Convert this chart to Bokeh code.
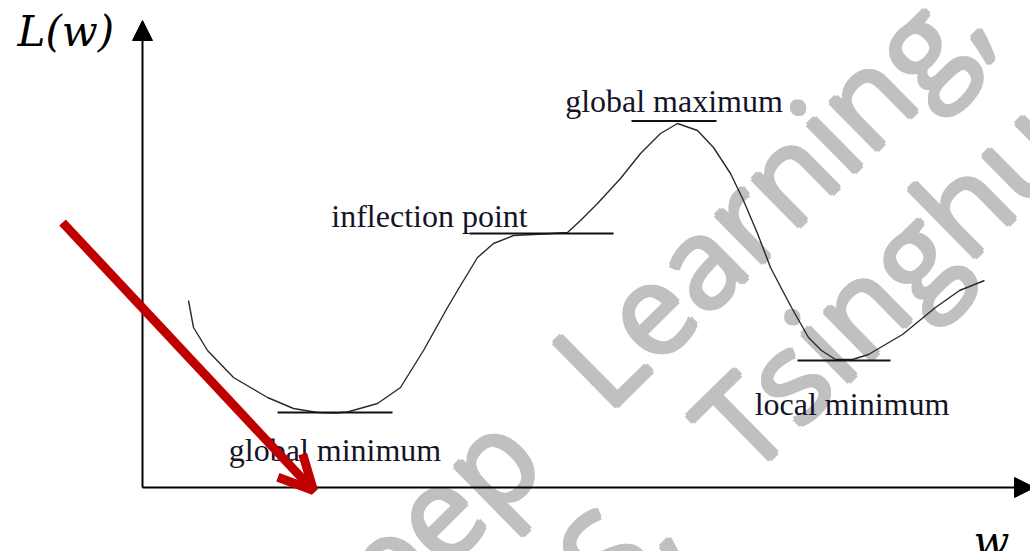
from bokeh.plotting import figure
from bokeh.models import Range1d, Arrow, NormalHead, OpenHead, ColumnDataSource
from bokeh.core.properties import value
from bokeh.embed import file_html
from bokeh.resources import INLINE

# Loss curve L(w) sampled along w
w_vals = [0.46, 0.51, 0.65, 0.91, 1.25, 1.51, 1.75, 1.93, 2.05, 2.35, 2.58, 2.81,
          3.05, 3.18, 3.35, 3.51, 3.71, 4.01, 4.25, 4.38, 4.55, 4.78, 4.98, 5.18,
          5.35, 5.55, 5.71, 5.88, 6.01, 6.15, 6.28, 6.40, 6.49, 6.66, 6.79, 6.93,
          7.10, 7.26, 7.60, 7.93, 8.17, 8.42]
loss_vals = [1.87, 1.60, 1.37, 1.10, 0.90, 0.79, 0.75, 0.745, 0.755, 0.84, 1.00, 1.37,
             1.80, 2.02, 2.30, 2.44, 2.52, 2.535, 2.55, 2.67, 2.84, 3.09, 3.34, 3.54,
             3.64, 3.57, 3.40, 3.14, 2.87, 2.54, 2.20, 1.97, 1.80, 1.50, 1.37, 1.28,
             1.28, 1.33, 1.53, 1.80, 1.97, 2.07]

# Critical points of the curve
point_names = ["global minimum", "inflection point", "global maximum", "local minimum"]
point_w = [1.925, 3.99, 5.315, 7.015]
point_loss = [0.75, 2.54, 3.665, 1.27]

# Layout of the tangent marks and their captions (pixels)
tangent_half = [57.5, 72, 42.5, 46.5]
caption_dx = [0, -112, 0, 8]
caption_dy = [-37, 18, 20, -43]

PX = 100.0  # pixels per data unit on both axes

p = figure(width=1030, height=551,
           x_range=Range1d(-1.42, 8.88), y_range=Range1d(-0.64, 4.87),
           output_backend="svg", toolbar_location=None,
           x_axis_type=None, y_axis_type=None, min_border=0,
           outline_line_color=None, background_fill_color="white",
           border_fill_color="white")

# Watermark underlay, word by word along two slanted baselines; each word is
# stamped a few times with tiny offsets to give the face a medium weight
wm_font = value("Open Sans")
wm_angle = 0.777
wm_words = ["Deep", "Learning,", "IIIS,", "Tsinghua"]
wm_x = [1.51, 4.31, 3.61, 5.72]
wm_y = [-1.63, 1.07, -1.65, 0.42]
for dx, dy in [(0, 0), (-1.5, -1.5), (1.5, -1.5), (-1.5, 1.5), (1.5, 1.5)]:
    p.text(x=wm_x, y=wm_y, text=wm_words, angle=wm_angle,
           x_offset=dx, y_offset=dy,
           text_font=wm_font, text_font_size="126px",
           text_color="#c0c0c0", text_align="left", text_baseline="alphabetic")

# Loss curve
p.line(w_vals, loss_vals, line_color="#2a2a2a", line_width=1.4)

# Horizontal tangent marks at the critical points
tan_src = ColumnDataSource(dict(
    x0=[w - h / PX for w, h in zip(point_w, tangent_half)],
    x1=[w + h / PX for w, h in zip(point_w, tangent_half)],
    y=point_loss))
p.segment(x0="x0", y0="y", x1="x1", y1="y", source=tan_src,
          line_color="#111111", line_width=2)

# Captions
cap_src = ColumnDataSource(dict(
    x=[w + dx / PX for w, dx in zip(point_w, caption_dx)],
    y=[l + dy / PX for l, dy in zip(point_loss, caption_dy)],
    text=point_names))
p.text(x="x", y="y", text="text", source=cap_src,
       text_font=value("Liberation Serif"), text_font_size="32px",
       text_color="#141428", text_align="center", text_baseline="alphabetic")

# Axes with arrow heads
p.add_layout(Arrow(end=NormalHead(size=20, fill_color="black", line_color="black"),
                   x_start=0, y_start=0, x_end=0, y_end=4.67,
                   line_color="black", line_width=2))
p.add_layout(Arrow(end=NormalHead(size=20, fill_color="black", line_color="black"),
                   x_start=0, y_start=0, x_end=8.92, y_end=0,
                   line_color="black", line_width=2))

# Axis names
p.text(x=[-1.25], y=[4.56], text=["L(w)"], text_font=value("DejaVu Serif"),
       text_font_style="italic", text_font_size="42px", text_color="black",
       text_align="left", text_baseline="alphabetic")
p.text(x=[8.31], y=[-0.54], text=["w"], text_font=value("DejaVu Serif"),
       text_font_style="italic", text_font_size="42px", text_color="black",
       text_align="left", text_baseline="alphabetic")

# Red pointer arrow
p.add_layout(Arrow(end=OpenHead(size=34, line_width=9, line_color="#c00000"),
                   x_start=-0.80, y_start=2.65, x_end=1.71, y_end=-0.03,
                   line_color="#c00000", line_width=9))

open("out.html", "w").write(file_html(p, INLINE))
